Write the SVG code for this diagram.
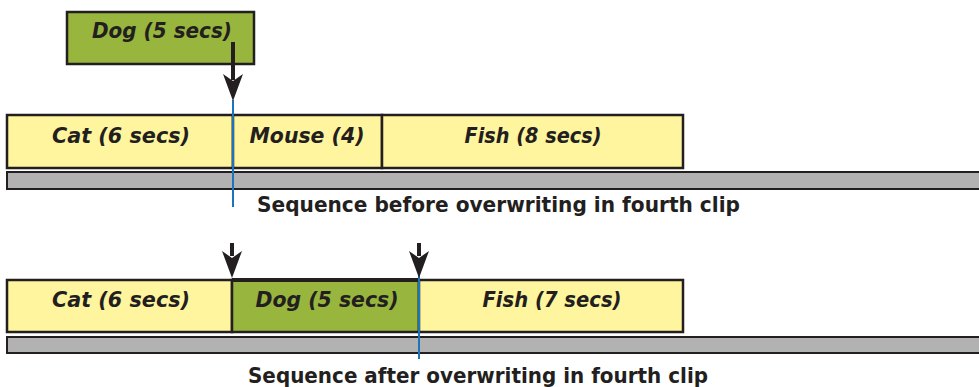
<svg xmlns="http://www.w3.org/2000/svg" width="979" height="387" viewBox="0 0 979 387">
<defs>
<style>
.clip{stroke:#231f20;stroke-width:2.5}
.yel{fill:#fff59e}
.grn{fill:#98b53e}
.bar{fill:#b2b2b2;stroke:#231f20;stroke-width:2}
.lbl{font-family:"DejaVu Sans",sans-serif;font-weight:bold;font-style:oblique;font-size:21px;fill:#231f20;text-anchor:middle}
.cap{font-family:"DejaVu Sans",sans-serif;font-weight:bold;font-size:22px;fill:#231f20}
.play{stroke:#1c75bc;stroke-width:2;fill:none}
.shaft{stroke:#231f20;stroke-width:4;fill:none}
.head{fill:#231f20}
</style>
</defs>
<g id="bars">
<rect class="bar" x="7" y="172" width="980" height="17"/>
<rect class="bar" x="7" y="337" width="980" height="16"/>
</g>
<g id="dog-source">
<rect class="clip grn" x="67" y="12" width="187" height="52"/>
<text class="lbl" x="162" y="38" textLength="140" lengthAdjust="spacingAndGlyphs">Dog (5 secs)</text>
</g>
<g id="cat-before">
<rect class="clip yel" x="7" y="115" width="226" height="53"/>
<text class="lbl" x="121" y="143" textLength="138" lengthAdjust="spacingAndGlyphs">Cat (6 secs)</text>
</g>
<g id="mouse-before">
<rect class="clip yel" x="233" y="115" width="149" height="53"/>
<text class="lbl" x="307" y="143" textLength="115" lengthAdjust="spacingAndGlyphs">Mouse (4)</text>
</g>
<g id="fish-before">
<rect class="clip yel" x="382" y="115" width="301" height="53"/>
<text class="lbl" x="533" y="143" textLength="137" lengthAdjust="spacingAndGlyphs">Fish (8 secs)</text>
</g>
<g id="cat-after">
<rect class="clip yel" x="7" y="280" width="225" height="52"/>
<text class="lbl" x="121" y="307" textLength="138" lengthAdjust="spacingAndGlyphs">Cat (6 secs)</text>
</g>
<g id="dog-after">
<rect class="clip grn" x="232" y="280" width="187" height="52"/>
<line x1="232" y1="280" x2="419" y2="280" stroke="#231f20" stroke-width="4"/>
<text class="lbl" x="327" y="307" textLength="143" lengthAdjust="spacingAndGlyphs">Dog (5 secs)</text>
</g>
<g id="fish-after">
<rect class="clip yel" x="419" y="280" width="264" height="52"/>
<text class="lbl" x="552" y="307" textLength="139" lengthAdjust="spacingAndGlyphs">Fish (7 secs)</text>
</g>
<g id="connectors">
<line class="play" x1="233" y1="100" x2="233" y2="207"/>
<line class="play" x1="419" y1="270" x2="419" y2="359"/>
<line class="shaft" x1="233" y1="42" x2="233" y2="80"/>
<path class="head" d="M223,74 L233,81 L243,74 L233,101 Z"/>
<line class="shaft" x1="232" y1="243" x2="232" y2="256"/>
<path class="head" d="M222,251 L232,258 L242,251 L232,278 Z"/>
<line class="shaft" x1="419" y1="243" x2="419" y2="256"/>
<path class="head" d="M409,251 L419,258 L429,251 L419,278 Z"/>
</g>
<g id="captions">
<text class="cap" x="257" y="212" textLength="483" lengthAdjust="spacingAndGlyphs">Sequence before overwriting in fourth clip</text>
<text class="cap" x="248" y="383" textLength="460" lengthAdjust="spacingAndGlyphs">Sequence after overwriting in fourth clip</text>
</g>
</svg>
